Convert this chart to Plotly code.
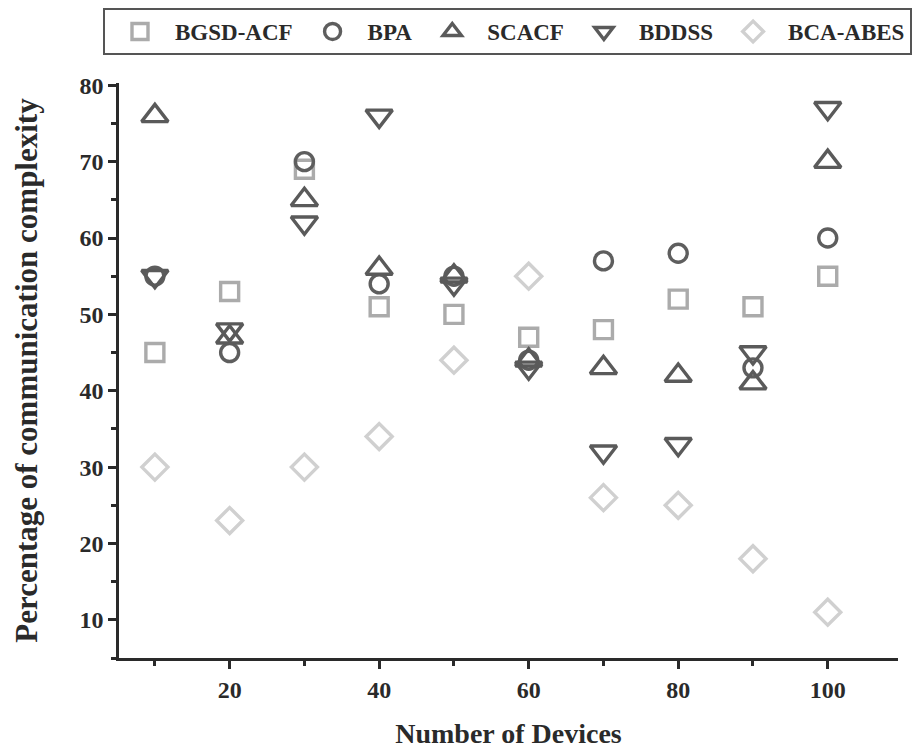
import plotly.graph_objects as go

devices = [10, 20, 30, 40, 50, 60, 70, 80, 90, 100]
bgsd_acf = [45, 53, 69, 51, 50, 47, 48, 52, 51, 55]
bpa = [55, 45, 70, 54, 55, 44, 57, 58, 43, 60]
scacf = [76, 47, 65, 56, 55, 44, 43, 42, 41, 70]
bddss = [55, 48, 62, 76, 54, 43, 32, 33, 45, 77]
bca_abes = [30, 23, 30, 34, 44, 55, 26, 25, 18, 11]

x_ticks = [20, 40, 60, 80, 100]
y_ticks = [10, 20, 30, 40, 50, 60, 70, 80]

series = [
    ("BGSD-ACF", bgsd_acf, "square-open", "#ababab", 18),
    ("BPA", bpa, "circle-open", "#5e5e5e", 18),
    ("SCACF", scacf, "triangle-up-open", "#5a5a5a", 23),
    ("BDDSS", bddss, "triangle-down-open", "#5a5a5a", 23),
    ("BCA-ABES", bca_abes, "diamond-open", "#d0d0d0", 20),
]

FONT = "Liberation Serif"
W, H = 913, 741
L, R, T, B = 111, 23, 75, 91
PW, PH = W - L - R, H - T - B
fig = go.Figure()
for name, vals, sym, col, sz in series:
    fig.add_trace(go.Scatter(
        x=devices, y=vals, mode="markers", name=name,
        marker=dict(symbol=sym, size=sz, color=col, line=dict(width=3.4, color=col)),
    ))

axis_common = dict(
    showline=True, linecolor="#2a2a2a", linewidth=2.5,
    ticks="outside", ticklen=8, tickwidth=2.5, tickcolor="#2a2a2a",
    showgrid=False, zeroline=False, mirror=False,
    tickfont=dict(family=FONT, size=24, color="#2a2a2a", weight="bold"),
)

fig.update_layout(
    width=W, height=H,
    paper_bgcolor="white", plot_bgcolor="white",
    margin=dict(l=L, r=R, t=T, b=B, autoexpand=False),
    font=dict(family=FONT, color="#2a2a2a"),
    xaxis=dict(
        range=[5.2, 109.4], tickvals=x_ticks,
        minor=dict(ticks="outside", ticklen=5, tickwidth=2.5, tickcolor="#2a2a2a", dtick=10, tick0=0),
        title=dict(text="<b>Number of Devices</b>", font=dict(family=FONT, size=28, color="#2a2a2a"), standoff=22),
        **axis_common,
    ),
    yaxis=dict(
        range=[5, 80.3], tickvals=y_ticks,
        minor=dict(ticks="outside", ticklen=5, tickwidth=2.5, tickcolor="#2a2a2a", dtick=5, tick0=0),
        title=dict(text="<b>Percentage of communication complexity</b>", font=dict(family=FONT, size=31, color="#2a2a2a"), standoff=33),
        **axis_common,
    ),
    legend=dict(
        orientation="h",
        x=(95 - L) / PW, y=1 + T / PH, xanchor="left", yanchor="top",
        bordercolor="#555555", borderwidth=2, bgcolor="white",
        font=dict(family=FONT, size=23, color="#2a2a2a", weight="bold"),
        itemwidth=60,
    ),
)

fig.write_html("out.html")
